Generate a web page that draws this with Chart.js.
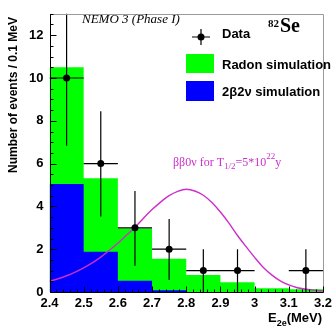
<!DOCTYPE html>
<html>
<head>
<meta charset="utf-8">
<script src="https://cdn.jsdelivr.net/npm/chart.js@4.4.0/dist/chart.umd.min.js"></script>
<style>
html,body{margin:0;padding:0;background:#fff;}
#wrap{width:336px;height:327px;position:relative;}
</style>
</head>
<body>
<div id="wrap"><canvas id="c" width="336" height="327"></canvas></div>
<script>
// ---- data ----
const binEdges = [2.4, 2.5, 2.6, 2.7, 2.8, 2.9, 3.0, 3.1, 3.2];
const radonSim = [10.5, 5.31, 2.97, 1.55, 0.79, 0.46, 0.17, 0.13];   // green (total simulation)
const twoNuSim = [5.05, 1.88, 0.52, 0.08, 0.0, 0.0, 0.0, 0.0];      // blue 2b2v
const dataX    = [2.45, 2.55, 2.65, 2.75, 2.85, 2.95, 3.15];
const dataY    = [10, 6, 3, 2, 1, 1, 1];
const dataLow  = [6.83, 3.53, 1.23, 0.56, 0, 0, 0];
const dataHigh = [13.4, 8.45, 4.72, 3.41, 2.0, 2.0, 2.0];
const xHalfWidth = [0.05, 0.05, 0.05, 0.05, 0.05, 0.05, 0.05];
const curveX = [2.4, 2.425, 2.45, 2.475, 2.5, 2.525, 2.55, 2.575, 2.6, 2.625, 2.65, 2.675, 2.7, 2.725, 2.75, 2.775, 2.8,
                2.825, 2.85, 2.875, 2.9, 2.925, 2.95, 2.975, 3.0, 3.025, 3.05, 3.075, 3.1, 3.125, 3.15, 3.175, 3.2];
const curveY = [0.50, 0.62, 0.76, 0.93, 1.13, 1.36, 1.63, 1.95, 2.28, 2.65, 3.02, 3.45, 3.85, 4.20, 4.50, 4.70, 4.80,
                4.72, 4.52, 4.18, 3.74, 3.22, 2.64, 2.12, 1.62, 1.16, 0.80, 0.52, 0.33, 0.20, 0.13, 0.08, 0.05];
const xTickLabels = ['2.4', '2.5', '2.6', '2.7', '2.8', '2.9', '3', '3.1', '3.2'];
const yTickLabels = ['0', '2', '4', '6', '8', '10', '12'];

// ---- helpers to build library datasets ----
function histPoints(edges, vals) {
  const pts = vals.map((v, i) => ({x: edges[i], y: v}));
  pts.push({x: edges[edges.length - 1], y: vals[vals.length - 1]});
  return pts;
}
const MAG = '#cc2ecc';
const SANS = '"Liberation Sans", Arial, Helvetica, sans-serif';
const SERIF = '"Liberation Serif", "Times New Roman", serif';

const overlay = {
  id: 'overlay',
  afterDatasetsDraw(chart) {
    const ctx = chart.ctx, xs = chart.scales.x, ys = chart.scales.y;
    const ca = chart.chartArea;
    ctx.save();
    ctx.strokeStyle = '#000'; ctx.lineWidth = 1.2;
    ctx.beginPath();
    ctx.rect(ca.left, ca.top, ca.right - ca.left, ca.bottom - ca.top);
    ctx.clip();
    ctx.beginPath();
    for (let i = 0; i < dataX.length; i++) {
      const px = xs.getPixelForValue(dataX[i]);
      const py = ys.getPixelForValue(dataY[i]);
      ctx.moveTo(xs.getPixelForValue(dataX[i] - xHalfWidth[i]), py);
      ctx.lineTo(xs.getPixelForValue(dataX[i] + xHalfWidth[i]), py);
      ctx.moveTo(px, ys.getPixelForValue(dataLow[i]));
      ctx.lineTo(px, ys.getPixelForValue(dataHigh[i]));
    }
    ctx.stroke();
    ctx.restore();
  },
  afterDraw(chart) {
    const ctx = chart.ctx, xs = chart.scales.x, ys = chart.scales.y;
    const ca = chart.chartArea;
    ctx.save();
    ctx.strokeStyle = '#9a9a9a'; ctx.lineWidth = 1;
    ctx.beginPath();
    ctx.moveTo(Math.round(ca.left) + 0.5, Math.round(ca.top) + 0.5);
    ctx.lineTo(Math.round(ca.right) + 0.5, Math.round(ca.top) + 0.5);
    ctx.lineTo(Math.round(ca.right) + 0.5, Math.round(ca.bottom) + 0.5);
    ctx.stroke();
    ctx.strokeStyle = '#000';
    ctx.beginPath();
    ctx.moveTo(Math.round(ca.left) + 0.5, Math.round(ca.top));
    ctx.lineTo(Math.round(ca.left) + 0.5, Math.round(ca.bottom) + 0.5);
    ctx.lineTo(Math.round(ca.right) + 0.5, Math.round(ca.bottom) + 0.5);
    ctx.stroke();
    ctx.beginPath();
    const yb = Math.round(ca.bottom) + 0.5;
    for (let k = 0; k <= 40; k++) {
      const v = 2.4 + k * 0.02;
      const px = Math.round(xs.getPixelForValue(v)) + 0.5;
      const len = (k % 5 === 0) ? 6 : 3;
      ctx.moveTo(px, yb); ctx.lineTo(px, yb - len);
    }
    const xl = Math.round(ca.left) + 0.5;
    for (let k = 0; k <= 26; k++) {
      const v = k * 0.5;
      const py = Math.round(ys.getPixelForValue(v)) + 0.5;
      const len = (k % 4 === 0) ? 6 : 3;
      ctx.moveTo(xl, py); ctx.lineTo(xl + len, py);
    }
    ctx.stroke();

    // y title
    ctx.save();
    ctx.translate(14, 95);
    ctx.rotate(-Math.PI / 2);
    ctx.font = 'bold 12px ' + SANS;
    ctx.fillStyle = '#000'; ctx.textAlign = 'center'; ctx.textBaseline = 'middle';
    ctx.fillText('Number of events / 0.1 MeV', 0, 0);
    ctx.restore();

    // x title E_2e(MeV)
    ctx.fillStyle = '#000'; ctx.textBaseline = 'alphabetic'; ctx.textAlign = 'left';
    let x = 268;
    ctx.font = 'bold 13px ' + SANS;
    ctx.fillText('E', x, 322); x += ctx.measureText('E').width;
    ctx.font = 'bold 9px ' + SANS;
    ctx.fillText('2e', x, 326); x += ctx.measureText('2e').width;
    ctx.font = 'bold 13px ' + SANS;
    ctx.fillText('(MeV)', x, 322);

    // NEMO 3 label
    ctx.font = 'italic 13px ' + SERIF;
    ctx.fillText('NEMO 3 (Phase I)', 82, 23);

    // 82Se
    ctx.font = 'bold 11px ' + SERIF;
    ctx.fillText('82', 268, 27);
    ctx.font = 'bold 20px ' + SERIF;
    ctx.fillText('Se', 280, 32);

    // legend
    const lx = 201, ly = 37;
    ctx.strokeStyle = '#000'; ctx.lineWidth = 1.2;
    ctx.beginPath();
    ctx.moveTo(lx - 9, ly); ctx.lineTo(lx + 9, ly);
    ctx.moveTo(lx, ly - 8); ctx.lineTo(lx, ly + 8);
    ctx.stroke();
    ctx.beginPath(); ctx.arc(lx, ly, 3.5, 0, Math.PI * 2); ctx.fillStyle = '#000'; ctx.fill();
    ctx.fillStyle = '#00ff00'; ctx.fillRect(186, 54, 28, 19);
    ctx.fillStyle = '#0000ff'; ctx.fillRect(186, 81, 28, 20);
    ctx.fillStyle = '#000';
    ctx.font = 'bold 13px ' + SANS;
    ctx.fillText('Data', 222, 38);
    ctx.fillText('Radon simulation', 222, 69);
    ctx.fillText('2\u03b22\u03bd simulation', 222, 96);

    // bb0v annotation
    ctx.fillStyle = MAG;
    x = 173;
    ctx.font = '12px ' + SERIF;
    ctx.fillText('\u03b2\u03b20\u03bd for T', x, 166); x += ctx.measureText('\u03b2\u03b20\u03bd for T').width;
    ctx.font = '9px ' + SERIF;
    ctx.fillText('1/2', x, 169); x += ctx.measureText('1/2').width;
    ctx.font = '12px ' + SERIF;
    ctx.fillText('=5*10', x, 166); x += ctx.measureText('=5*10').width;
    ctx.font = '9px ' + SERIF;
    ctx.fillText('22', x, 159); x += ctx.measureText('22').width;
    ctx.font = '12px ' + SERIF;
    ctx.fillText('y', x, 166);
    ctx.restore();
  }
};

new Chart(document.getElementById('c'), {
  type: 'line',
  data: {
    datasets: [
      {
        label: 'Data',
        data: dataX.map((x, i) => ({x: x, y: dataY[i]})),
        showLine: false, pointRadius: 3.5, pointBackgroundColor: '#000', pointBorderColor: '#000',
        pointBorderWidth: 0
      },
      {
        label: 'bb0v',
        data: curveX.map((x, i) => ({x: x, y: curveY[i]})),
        borderColor: MAG, borderWidth: 1.4, pointRadius: 0, fill: false,
        cubicInterpolationMode: 'monotone'
      },
      {
        label: '2b2v simulation',
        data: histPoints(binEdges, twoNuSim),
        stepped: true, borderWidth: 0, borderColor: 'rgba(0,0,0,0)', pointRadius: 0,
        backgroundColor: '#0000ff', fill: 'origin'
      },
      {
        label: 'Radon simulation',
        data: histPoints(binEdges, radonSim),
        stepped: true, borderWidth: 0, borderColor: 'rgba(0,0,0,0)', pointRadius: 0,
        backgroundColor: '#00ff00', fill: 'origin'
      }
    ]
  },
  options: {
    responsive: false, animation: false, devicePixelRatio: 1,
    layout: {padding: {top: 7, right: 12, left: 0, bottom: 0}},
    plugins: {legend: {display: false}, tooltip: {enabled: false}},
    scales: {
      x: {
        type: 'linear', min: 2.4, max: 3.2,
        grid: {display: false, drawTicks: false},
        border: {display: false},
        afterBuildTicks: (s) => { s.ticks = xTickLabels.map(t => ({value: parseFloat(t)})); },
        ticks: {
          autoSkip: false, maxRotation: 0, padding: 4, color: '#000',
          font: {family: SANS, size: 13, weight: 'bold'},
          callback: (v, i) => xTickLabels[i]
        },
        afterFit: (s) => { s.height = 35; }
      },
      y: {
        type: 'linear', min: 0, max: 13,
        grid: {display: false, drawTicks: false},
        border: {display: false},
        afterBuildTicks: (s) => { s.ticks = yTickLabels.map(t => ({value: parseFloat(t)})); },
        ticks: {
          autoSkip: false, padding: 6, color: '#000',
          font: {family: SANS, size: 13, weight: 'bold'},
          callback: (v, i) => yTickLabels[i]
        },
        afterFit: (s) => { s.width = 49.5; }
      }
    }
  },
  plugins: [overlay]
});
</script>
</body>
</html>
